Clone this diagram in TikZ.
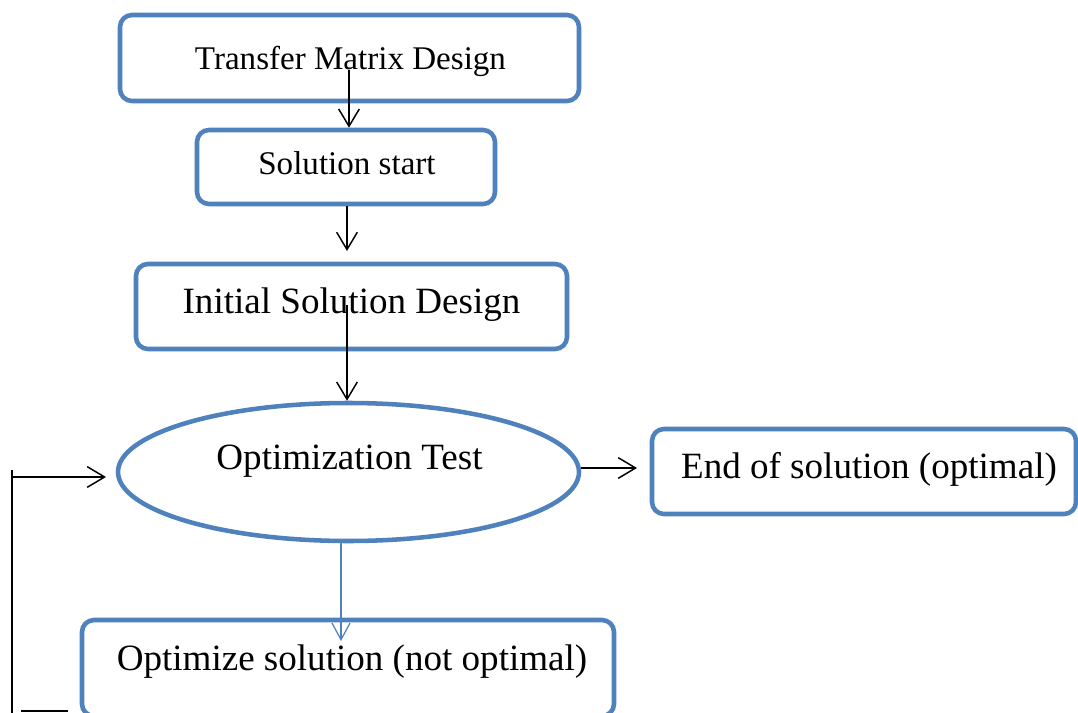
\documentclass[tikz,border=0pt]{standalone}
\usepackage{fontspec}
\setmainfont{Liberation Serif}
\usetikzlibrary{arrows.meta,shapes.geometric}
\definecolor{obl}{HTML}{4F81BD}
\begin{document}
\begin{tikzpicture}[x=0.75pt,y=-0.75pt,
  shapebox/.style={draw=obl, line width=3.4pt, rounded corners=9pt, inner sep=0pt, fill=white},
  ell/.style={draw=obl, line width=3.4pt, ellipse, inner sep=0pt, fill=white},
  lbl/.style={anchor=base, inner sep=0pt, text=black},
  smallfont/.style={font=\fontsize{24.8pt}{30pt}\selectfont},
  bigfont/.style={font=\fontsize{27.8pt}{33pt}\selectfont},
  tip/.style={-{Straight Barb[length=13pt,width=15.5pt,line width=1.1pt]}},
  arr/.style={draw=black, line width=1.1pt, tip},
  barr/.style={draw=obl, line width=0.8pt, -{Straight Barb[length=12.5pt,width=13.5pt,line width=0.9pt]}},
  plain/.style={draw=black, line width=1.1pt}
]
\useasboundingbox[fill=white] (0,0) rectangle (1078,713);

% shapes
\node[shapebox, minimum width={459*0.75pt}, minimum height={86*0.75pt}] (b1) at (349.5,58) {};
\node[shapebox, minimum width={298*0.75pt}, minimum height={74*0.75pt}] (b2) at (346,167) {};
\node[shapebox, minimum width={431*0.75pt}, minimum height={85*0.75pt}] (b3) at (351.5,306.5) {};
\node[ell, minimum width={461*0.75pt}, minimum height={138*0.75pt}] (e) at (348.5,472) {};
\node[shapebox, minimum width={424*0.75pt}, minimum height={85*0.75pt}] (b5) at (864,471.5) {};
\node[shapebox, minimum width={532*0.75pt}, minimum height={96*0.75pt}] (b6) at (348,668) {};

% texts
\node[lbl, smallfont] (t1) at (350.5,70) {Transfer Matrix Design};
\node[lbl, smallfont] (t2) at (347,175) {Solution start};
\node[lbl, bigfont] (t3) at (351.5,313) {Initial Solution Design};
\node[lbl, bigfont] (t4) at (349.5,469) {Optimization Test};
\node[lbl, bigfont] (t5) at (869,478) {End of solution (optimal)};
\node[lbl, bigfont] (t6) at (352,670) {Optimize solution (not optimal)};

% connector coordinates
\coordinate (a1s) at (349,70);
\coordinate (a2e) at (347,251);
\coordinate (a3s) at (347,305);
\coordinate (a4e) at (341,641);
\coordinate (a5e) at (637,468);
\coordinate (fbA) at (21,711);
\coordinate (fbB) at (68,711);
\coordinate (fvTop) at (12,470);
\coordinate (fvBot) at (12,713);
\coordinate (fc) at (12,477);
\coordinate (fe) at (106,477);

% connectors
\draw[arr] (a1s) -- (a1s |- b2.north);
\draw[arr] (a2e |- b2.south) -- (a2e);
\draw[arr] (a3s) -- (a3s |- e.north);
\draw[barr] (a4e |- e.south) -- (a4e);
\draw[arr] (e.east |- a5e) -- (a5e);
\draw[plain] (fvBot) -- (fvTop);
\draw[arr] (fc) -- (fe);
\draw[plain] (fbA) -- (fbB);
\end{tikzpicture}
\end{document}
